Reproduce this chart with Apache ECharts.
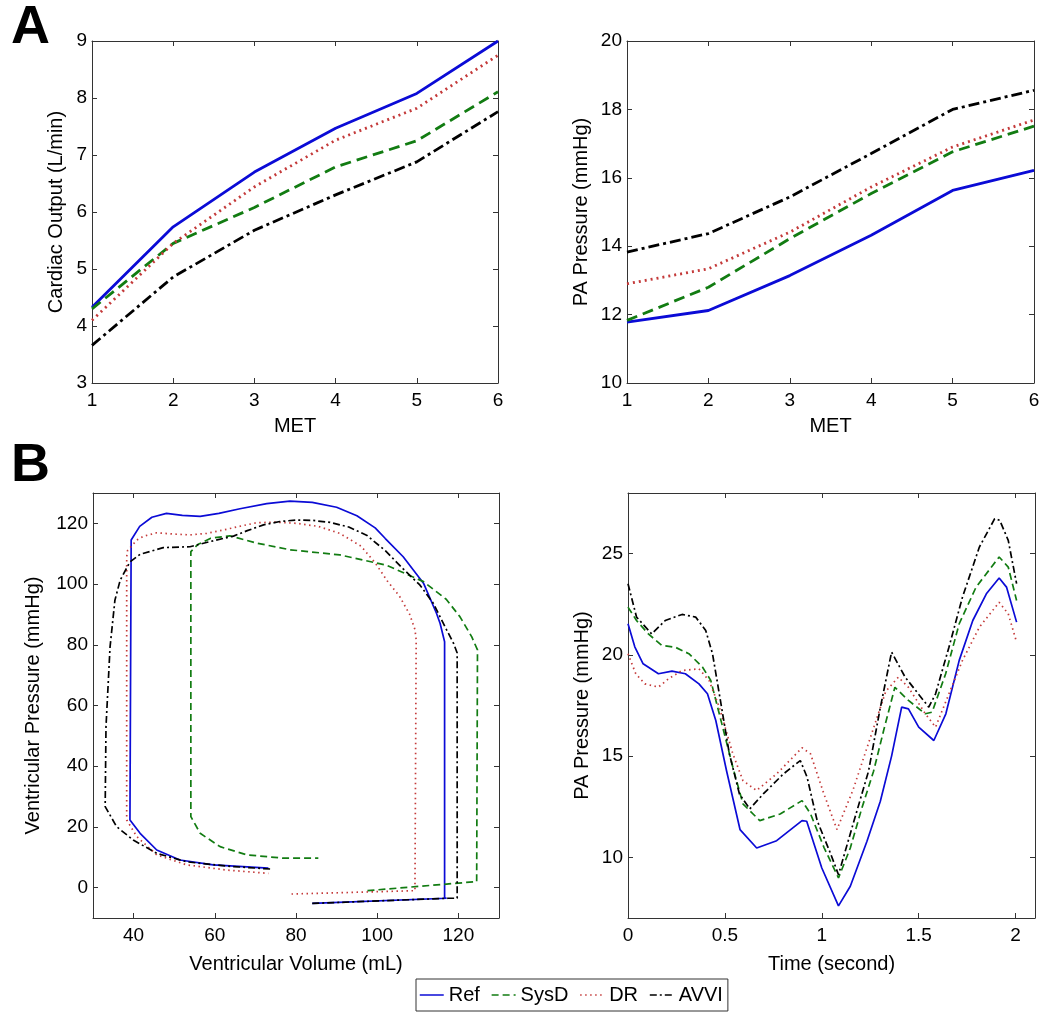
<!DOCTYPE html>
<html>
<head>
<meta charset="utf-8">
<script src="https://cdn.jsdelivr.net/npm/echarts/dist/echarts.min.js"></script>
<style>
  html, body { margin: 0; padding: 0; background: #fff; }
  #chart { width: 1050px; height: 1020px; }
</style>
</head>
<body>
<div id="chart"></div>
<script>
// panel A: x = MET
const met = [1, 2, 3, 4, 5, 6];
// cardiac output (L/min)
const coRef  = [4.33, 5.74, 6.70, 7.47, 8.08, 9.00];
const coSysD = [4.30, 5.45, 6.08, 6.79, 7.25, 8.11];
const coDR   = [4.10, 5.45, 6.44, 7.26, 7.82, 8.75];
const coAVVI = [3.66, 4.86, 5.68, 6.30, 6.88, 7.76];
// PA pressure (mmHg) vs MET
const paRef  = [11.78, 12.12, 13.14, 14.32, 15.63, 16.22];
const paSysD = [11.83, 12.80, 14.22, 15.54, 16.76, 17.51];
const paDR   = [12.90, 13.34, 14.41, 15.73, 16.90, 17.69];
const paAVVI = [13.83, 14.37, 15.44, 16.71, 18.00, 18.56];

// panel B left: PV loops [volume mL, pressure mmHg]
const pvRef = [[84,-5.2],[117.1,-3.5],[116.6,-3.4],[116.6,81],[115.5,87],[114.6,90.4],[111.4,100.3],[106.4,109],
  [102,115],[99.5,118.5],[95,122.5],[90,125.3],[84,126.9],[78.5,127.3],[72.8,126.5],[66.2,124.8],[61,123.3],
  [56.4,122.3],[52,122.6],[48.1,123.3],[44.5,122],[41.5,119],[39.4,114.5],[39.1,22.3],[41.6,17.9],[45.7,12.4],
  [51.4,9.1],[59.6,7.5],[73.2,6.4]];
const pvSysD = [[97.6,-1.0],[124.5,2.0],[124.7,2.0],[124.7,78.3],[123.3,82.6],[120.4,89.2],[117,95],[111.4,100.8],
  [102.3,106.2],[90.8,109.6],[78.5,111.3],[70.3,113.5],[63.7,115.9],[59,115.1],[55.8,113],[54.1,110.7],[54.1,23.4],
  [56.4,17.9],[61.3,13.5],[67.9,10.8],[76.9,9.7],[85.5,9.7]];
const pvDR = [[78.9,-2.1],[109.3,-1.0],[109.6,-0.5],[109.6,81.6],[109.3,85],[108,90],[105.5,96],[102.5,101],
  [99.5,107],[96,112.5],[90.8,116.7],[85.5,119],[80.2,120],[75,120.4],[70.3,120.2],[66,119],[62.1,117.8],[58,116.7],
  [53.9,116.2],[49.5,116.5],[45.7,116.9],[42.5,115.8],[40.8,114.5],[38.5,111],[38.3,109],[38.3,22.3],[40.8,16.8],
  [45.7,10.8],[53.1,7.5],[62.9,5.8],[73.2,4.7]];
const pvAVVI = [[84,-5.2],[117.4,-3.5],[119.7,-3.5],[119.7,77.3],[118.8,80.5],[117.1,84.9],[113.8,93.7],[110.5,99.7],
  [106.4,105],[102,111],[97.5,116],[93,118.8],[88.4,120.3],[84,121],[80.2,121.1],[76,120.6],[72,119.5],[68,117.6],
  [64.6,115.8],[58.8,114],[53.9,112.3],[47.3,112],[41.6,109.8],[39.1,107.3],[36.7,101.3],[35.4,94.7],[34.2,79.3],
  [33.2,53],[33,26.7],[35.8,20.1],[39.9,15.7],[45.7,11.3],[53.1,8.5],[62.9,7.1],[74,6.1]];

// panel B right: PA pressure over time [s, mmHg]
const ptRef = [[0,21.54],[0.035,20.4],[0.078,19.56],[0.157,19.07],[0.227,19.2],[0.296,19.07],[0.366,18.57],[0.41,18.08],
  [0.453,16.76],[0.509,14.25],[0.578,11.37],[0.664,10.46],[0.767,10.82],[0.898,11.81],[0.922,11.78],[1.0,9.47],
  [1.086,7.6],[1.147,8.57],[1.233,10.79],[1.302,12.77],[1.36,15.0],[1.412,17.42],[1.447,17.33],[1.5,16.43],
  [1.578,15.77],[1.64,17.09],[1.709,19.73],[1.779,21.7],[1.849,23.02],[1.915,23.8],[1.953,23.35],[2.005,21.62]];
const ptSysD = [[0,22.36],[0.044,21.7],[0.105,21.04],[0.174,20.47],[0.244,20.38],[0.314,20.06],[0.384,19.4],
  [0.427,18.74],[0.471,17.09],[0.541,14.45],[0.593,12.64],[0.68,11.81],[0.785,12.14],[0.898,12.8],[0.942,12.14],
  [1.011,10.49],[1.086,8.98],[1.147,10.46],[1.207,12.44],[1.267,14.25],[1.32,16.3],[1.377,18.4],[1.447,17.75],
  [1.534,17.09],[1.569,17.17],[1.639,19.07],[1.709,21.54],[1.796,23.35],[1.915,24.84],[1.962,24.34],[2.005,22.69]];
const ptDR = [[0,20.06],[0.04,19.07],[0.087,18.57],[0.157,18.41],[0.209,18.82],[0.279,19.23],[0.366,19.31],
  [0.418,18.74],[0.471,17.42],[0.541,15.11],[0.593,13.79],[0.663,13.3],[0.767,14.12],[0.898,15.41],[0.942,15.11],
  [1.011,13.13],[1.078,11.37],[1.16,13.3],[1.25,15.9],[1.33,18.2],[1.395,18.9],[1.447,18.4],[1.534,17.09],
  [1.587,16.43],[1.656,18.08],[1.726,19.73],[1.813,21.37],[1.915,22.6],[1.962,22.03],[2.005,20.63]];
const ptAVVI = [[0,23.52],[0.044,21.87],[0.122,21.04],[0.192,21.7],[0.279,22.0],[0.349,21.87],[0.401,21.21],
  [0.436,20.06],[0.471,18.08],[0.523,15.11],[0.575,13.13],[0.628,12.39],[0.698,13.13],[0.802,14.12],[0.889,14.78],
  [0.924,13.96],[0.976,11.81],[1.046,10.16],[1.086,9.14],[1.16,11.6],[1.241,14.25],[1.3,17.3],[1.36,20.14],
  [1.43,18.9],[1.552,17.42],[1.587,18.08],[1.656,20.38],[1.726,22.86],[1.813,25.33],[1.892,26.73],[1.918,26.65],
  [1.962,25.66],[2.005,23.52]];

// tick labels
const metTicks = [1, 2, 3, 4, 5, 6];
const coTicks = [3, 4, 5, 6, 7, 8, 9];
const paTicks = [10, 12, 14, 16, 18, 20];
const volTicks = [40, 60, 80, 100, 120];
const pvTicks = [0, 20, 40, 60, 80, 100, 120];
const timeTicks = [0, 0.5, 1, 1.5, 2];
const ptTicks = [10, 15, 20, 25];

const names = ['Ref', 'SysD', 'DR', 'AVVI'];
const FONT = '"Liberation Sans", Arial, Helvetica, sans-serif';
const colors = { Ref: '#0b0bd6', SysD: '#127c12', DR: '#c43a3a', AVVI: '#000000' };
const dashA = { Ref: 'solid', SysD: [11, 6], DR: [2, 4], AVVI: [11, 4, 3, 4] };
const dashB = { Ref: 'solid', SysD: [7, 4], DR: [1.5, 3.5], AVVI: [7, 3, 2, 3] };

const grids = [
  { left: 92, top: 41, width: 406, height: 342 },
  { left: 627, top: 41, width: 407, height: 342 },
  { left: 93, top: 493, width: 406, height: 425 },
  { left: 628, top: 493, width: 407, height: 425 }
];

function xPair(g, min, max, ticks, name, gap) {
  const base = {
    gridIndex: g, type: 'value', min: min, max: max,
    axisLine: { show: true, onZero: false, lineStyle: { color: '#333', width: 1 } },
    axisTick: { show: true, inside: true, length: 5, customValues: ticks, lineStyle: { color: '#333' } },
    splitLine: { show: false }
  };
  return [
    Object.assign({}, base, {
      position: 'bottom', name: name, nameLocation: 'middle', nameGap: gap,
      nameTextStyle: { fontSize: 20, color: '#000', fontFamily: FONT },
      axisLabel: { customValues: ticks, fontSize: 19, color: '#000', margin: 8, fontFamily: FONT }
    }),
    Object.assign({}, base, { position: 'top', axisLabel: { show: false } })
  ];
}

function yPair(g, min, max, ticks, name, gap) {
  const base = {
    gridIndex: g, type: 'value', min: min, max: max,
    axisLine: { show: true, onZero: false, lineStyle: { color: '#333', width: 1 } },
    axisTick: { show: true, inside: true, length: 5, customValues: ticks, lineStyle: { color: '#333' } },
    splitLine: { show: false }
  };
  return [
    Object.assign({}, base, {
      position: 'left', name: name, nameLocation: 'middle', nameGap: gap,
      nameTextStyle: { fontSize: 20, color: '#000', fontFamily: FONT },
      axisLabel: { customValues: ticks, fontSize: 19, color: '#000', margin: 5, fontFamily: FONT }
    }),
    Object.assign({}, base, { position: 'right', axisLabel: { show: false } })
  ];
}

function line(name, g, data, width, dash) {
  return {
    name: name, type: 'line', xAxisIndex: 2 * g, yAxisIndex: 2 * g,
    data: data, symbol: 'none', showSymbol: false, smooth: false,
    lineStyle: { color: colors[name], width: width, type: dash[name] },
    itemStyle: { color: colors[name] },
    emphasis: { disabled: true }
  };
}

const zipMet = arr => met.map((m, i) => [m, arr[i]]);

const series = [];
// B left first so the legend picks up the thin panel-B styles
[pvRef, pvSysD, pvDR, pvAVVI].forEach((d, i) => series.push(line(names[i], 2, d, 1.7, dashB)));
[ptRef, ptSysD, ptDR, ptAVVI].forEach((d, i) => series.push(line(names[i], 3, d, 1.7, dashB)));
[coRef, coSysD, coDR, coAVVI].forEach((d, i) => series.push(line(names[i], 0, zipMet(d), 2.8, dashA)));
[paRef, paSysD, paDR, paAVVI].forEach((d, i) => series.push(line(names[i], 1, zipMet(d), 2.8, dashA)));

const chart = echarts.init(document.getElementById('chart'));
chart.setOption({
  backgroundColor: '#fff',
  animation: false,
  title: [
    { text: 'A', left: 6, top: -4, textStyle: { fontSize: 54, fontWeight: 'bold', color: '#000', fontFamily: FONT } },
    { text: 'B', left: 6, top: 434, textStyle: { fontSize: 54, fontWeight: 'bold', color: '#000', fontFamily: FONT } }
  ],
  grid: grids,
  legend: {
    data: names, left: 416, top: 979, itemWidth: 24, itemHeight: 12, itemGap: 11,
    padding: [6, 5, 6, 3], borderColor: '#333', borderWidth: 1, selectedMode: false,
    textStyle: { fontSize: 20, color: '#000', fontFamily: FONT },
    lineStyle: { width: 1.5 },
    itemStyle: { color: 'rgba(0,0,0,0)', borderWidth: 0, opacity: 0 }
  },
  xAxis: [].concat(
    xPair(0, 1, 6, metTicks, 'MET', 33),
    xPair(1, 1, 6, metTicks, 'MET', 33),
    xPair(2, 30, 130, volTicks, 'Ventricular Volume (mL)', 36),
    xPair(3, 0, 2.1, timeTicks, 'Time (second)', 36)
  ),
  yAxis: [].concat(
    yPair(0, 3, 9, coTicks, 'Cardiac Output (L/min)', 26),
    yPair(1, 10, 20, paTicks, 'PA Pressure (mmHg)', 36),
    yPair(2, -10, 130, pvTicks, 'Ventricular Pressure (mmHg)', 50),
    yPair(3, 7, 28, ptTicks, 'PA Pressure (mmHg)', 36)
  ),
  series: series
});
</script>
</body>
</html>
